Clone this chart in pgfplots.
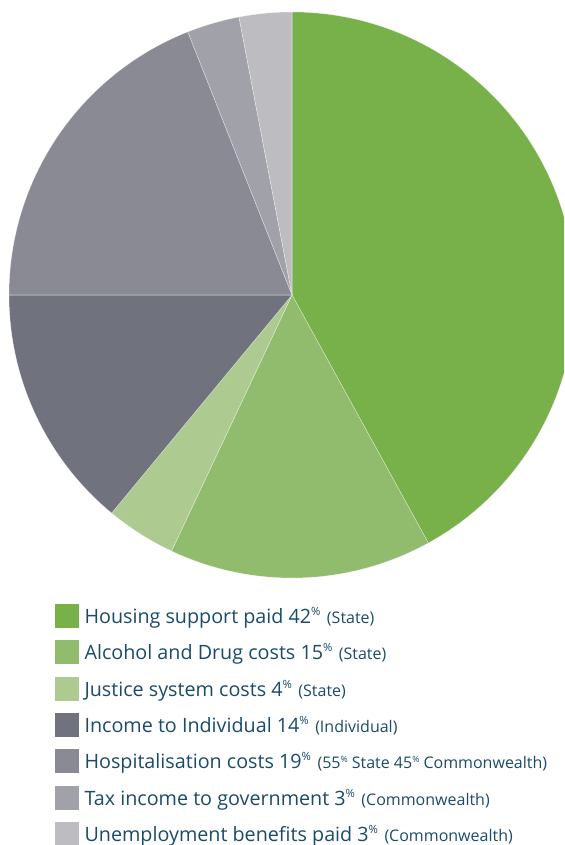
\documentclass[border=0pt]{standalone}
\usepackage{pgfplots}
\pgfplotsset{compat=1.18}
\usepackage{pgfplotstable}
\usepackage{fontspec}
\setmainfont{Open Sans}
\definecolor{slice0}{RGB}{120,176,74}
\definecolor{slice1}{RGB}{145,187,109}
\definecolor{slice2}{RGB}{173,203,144}
\definecolor{slice3}{RGB}{112,114,125}
\definecolor{slice4}{RGB}{137,138,147}
\definecolor{slice5}{RGB}{161,161,169}
\definecolor{slice6}{RGB}{189,188,193}
\definecolor{txt}{RGB}{27,75,106}
\newcommand\pct{\raisebox{0.42em}{\fontsize{8.5pt}{9pt}\selectfont\%}}
\newcommand\spct{\raisebox{0.42em}{\fontsize{6.5pt}{7pt}\selectfont\%}}
\newcommand\note[1]{\hspace{1pt}{\fontsize{12pt}{13pt}\selectfont(#1)}}
\pgfplotstableread{
value
42
15
4
14
19
3
3
}\piedata
\begin{document}
\begin{tikzpicture}
\begin{axis}[name=ax, hide axis, x=0.75pt, y=0.75pt,
  xmin=0, xmax=564, ymin=0, ymax=845,
  legend image code/.code={\fill[#1] (0pt,-8.625pt) rectangle (17.25pt,8.625pt);},
  legend style={at={(0.09752,0.28521)}, anchor=north west, draw=none, fill=none,
    inner sep=0pt, outer sep=0pt, row sep=9.6pt, column sep=4.5pt,
    font=\fontsize{14.8pt}{17pt}\selectfont, text=txt,
    nodes={inner sep=0pt, text height=14.3pt, text depth=2.5pt}},
  legend cell align=left]
\gdef\acc{0}
\pgfplotsforeachungrouped \i in {0,...,6}{%
  \pgfplotstablegetelem{\i}{value}\of\piedata
  \pgfmathsetmacro\a{90-3.6*\acc}
  \pgfmathsetmacro\b{90-3.6*(\acc+\pgfplotsretval)}
  \pgfmathsetmacro\newacc{\acc+\pgfplotsretval}
  \xdef\acc{\newacc}
  \edef\tmp{\noexpand\fill[slice\i, draw=white, draw opacity=0.45, line width=0.4pt]
    (axis cs:292,550) -- ++(\a:212.25pt) arc[start angle=\a, end angle=\b, radius=212.25pt] -- cycle;}
  \tmp
}
\addlegendimage{slice0}\addlegendentry{Housing support paid 42\pct\ \note{State}}
\addlegendimage{slice1}\addlegendentry{Alcohol and Drug costs 15\pct\ \note{State}}
\addlegendimage{slice2}\addlegendentry{Justice system costs 4\pct\ \note{State}}
\addlegendimage{slice3}\addlegendentry{Income to Individual 14\pct\ \note{Individual}}
\addlegendimage{slice4}\addlegendentry{Hospitalisation costs 19\pct\ \note{55\spct\ State 45\spct\ Commonwealth}}
\addlegendimage{slice5}\addlegendentry{Tax income to government 3\pct\ \note{Commonwealth}}
\addlegendimage{slice6}\addlegendentry{Unemployment benefits paid 3\pct\ \note{Commonwealth}}
\end{axis}
\pgfresetboundingbox
\useasboundingbox (ax.south west) rectangle (ax.north east);
\end{tikzpicture}
\end{document}
